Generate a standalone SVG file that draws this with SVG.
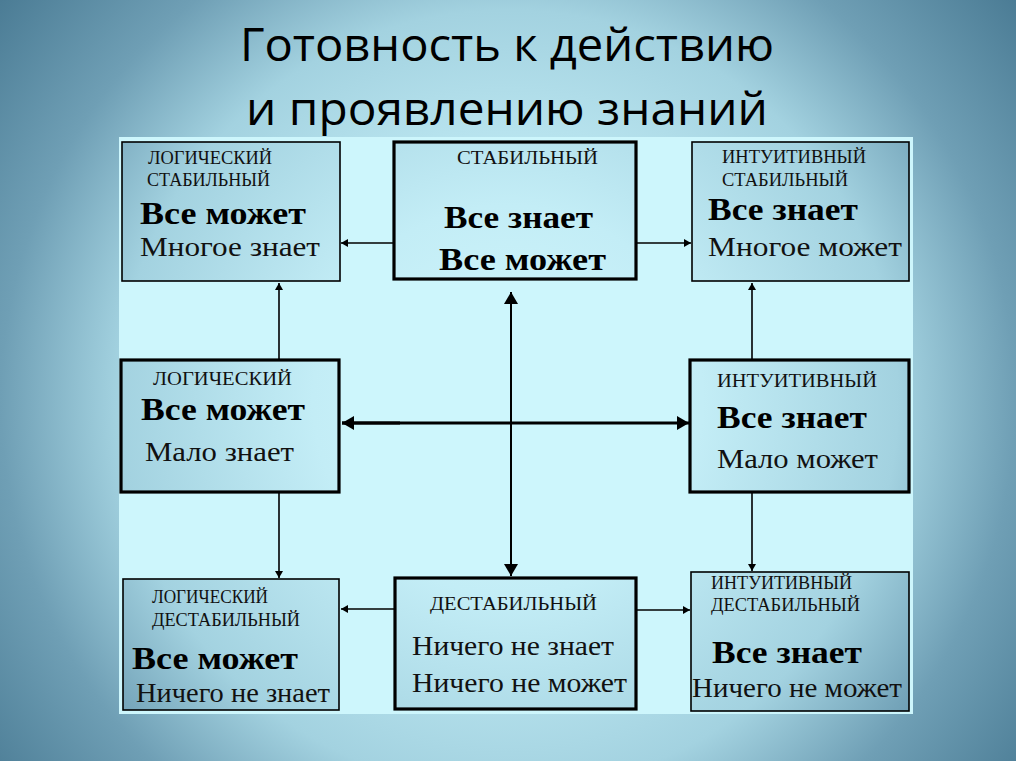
<svg xmlns="http://www.w3.org/2000/svg" width="1016" height="761" viewBox="0 0 1016 761">
<style>
.title{font-family:"Open Sans","Noto Sans","DejaVu Sans",sans-serif;font-size:45px;fill:#000}
.lbl{font-family:"Liberation Serif","DejaVu Serif",serif;font-size:19px;fill:#111}
.b{font-family:"Liberation Serif","DejaVu Serif",serif;font-size:31px;font-weight:bold;fill:#000}
.r{font-family:"Liberation Serif","DejaVu Serif",serif;font-size:27px;fill:#111}
.thin{fill:url(#bg);stroke:#000;stroke-width:1.6}
.thick{fill:url(#bg);stroke:#000;stroke-width:3.2}
.c1{stroke:#000;stroke-width:1.6;fill:none}
.c2{stroke:#000;stroke-width:2;fill:none}
.c3{stroke:#000;stroke-width:3.2;fill:none}
</style>
<defs>
<radialGradient id="bg" gradientUnits="userSpaceOnUse" cx="508" cy="400" r="650">
<stop offset="0" stop-color="#d2f7fc"/>
<stop offset="0.3" stop-color="#c3edf6"/>
<stop offset="0.6" stop-color="#a3d2e0"/>
<stop offset="0.78" stop-color="#6f9fb5"/>
<stop offset="1" stop-color="#4a7b94"/>
</radialGradient>
<marker id="as" viewBox="-10 -6 12 12" refX="0" refY="0" markerWidth="12" markerHeight="12" markerUnits="userSpaceOnUse" orient="auto">
<path d="M0,0 L-7,-4 L-7,4 Z" fill="#000"/>
</marker>
<marker id="am" viewBox="-14 -8 16 16" refX="0" refY="0" markerWidth="16" markerHeight="16" markerUnits="userSpaceOnUse" orient="auto">
<path d="M0,0 L-12,-7 L-12,7 Z" fill="#000"/>
</marker>
</defs>
<rect x="0" y="0" width="1016" height="761" fill="url(#bg)"/>
<rect x="119" y="137" width="794" height="577" fill="#cdf6fc"/>

<g id="title">
<text class="title" x="240" y="61" textLength="534" lengthAdjust="spacingAndGlyphs">Готовность к действию</text>
<text class="title" x="246" y="125" textLength="522" lengthAdjust="spacingAndGlyphs">и проявлению знаний</text>
</g>

<g id="connectors">
<line class="c1" x1="393" y1="243" x2="341" y2="243" marker-end="url(#as)"/>
<line class="c1" x1="636" y1="243" x2="691" y2="243" marker-end="url(#as)"/>
<line class="c1" x1="279" y1="360" x2="279" y2="283" marker-end="url(#as)"/>
<line class="c1" x1="752" y1="360" x2="752" y2="283" marker-end="url(#as)"/>
<line class="c1" x1="279" y1="492" x2="279" y2="578" marker-end="url(#as)"/>
<line class="c1" x1="752" y1="492" x2="752" y2="571" marker-end="url(#as)"/>
<line class="c1" x1="394" y1="609" x2="341" y2="609" marker-end="url(#as)"/>
<line class="c1" x1="637" y1="610" x2="690" y2="610" marker-end="url(#as)"/>
<line class="c2" x1="511" y1="300" x2="511" y2="292" marker-end="url(#am)"/>
<line class="c2" x1="511" y1="296" x2="511" y2="576" marker-end="url(#am)"/>
<line class="c3" x1="400" y1="423" x2="342" y2="423" marker-end="url(#am)"/>
<line class="c3" x1="342" y1="423" x2="689" y2="423" marker-end="url(#am)"/>
</g>

<g id="node-log-stab">
<rect class="thin" x="122" y="142" width="218" height="139"/>
<text class="lbl" x="148" y="164" textLength="124" lengthAdjust="spacingAndGlyphs">ЛОГИЧЕСКИЙ</text>
<text class="lbl" x="147" y="186" textLength="123" lengthAdjust="spacingAndGlyphs">СТАБИЛЬНЫЙ</text>
<text class="b" x="140" y="224" textLength="166" lengthAdjust="spacingAndGlyphs">Все может</text>
<text class="r" x="140" y="256" textLength="180" lengthAdjust="spacingAndGlyphs">Многое знает</text>
</g>

<g id="node-stab">
<rect class="thick" x="394" y="142" width="242" height="137"/>
<text class="lbl" x="457" y="164" textLength="141" lengthAdjust="spacingAndGlyphs">СТАБИЛЬНЫЙ</text>
<text class="b" x="444" y="228" textLength="149" lengthAdjust="spacingAndGlyphs">Все знает</text>
<text class="b" x="439" y="270" textLength="167" lengthAdjust="spacingAndGlyphs">Все может</text>
</g>

<g id="node-int-stab">
<rect class="thin" x="692" y="142" width="217" height="139"/>
<text class="lbl" x="722" y="163" textLength="144" lengthAdjust="spacingAndGlyphs">ИНТУИТИВНЫЙ</text>
<text class="lbl" x="722" y="186" textLength="126" lengthAdjust="spacingAndGlyphs">СТАБИЛЬНЫЙ</text>
<text class="b" x="708" y="220" textLength="150" lengthAdjust="spacingAndGlyphs">Все знает</text>
<text class="r" x="708" y="256" textLength="194" lengthAdjust="spacingAndGlyphs">Многое может</text>
</g>

<g id="node-log">
<rect class="thick" x="121" y="360" width="218" height="132"/>
<text class="lbl" x="153" y="385" textLength="139" lengthAdjust="spacingAndGlyphs">ЛОГИЧЕСКИЙ</text>
<text class="b" x="141" y="420" textLength="164" lengthAdjust="spacingAndGlyphs">Все может</text>
<text class="r" x="145" y="461" textLength="149" lengthAdjust="spacingAndGlyphs">Мало знает</text>
</g>

<g id="node-int">
<rect class="thick" x="690" y="360" width="219" height="132"/>
<text class="lbl" x="717" y="387" textLength="160" lengthAdjust="spacingAndGlyphs">ИНТУИТИВНЫЙ</text>
<text class="b" x="717" y="428" textLength="150" lengthAdjust="spacingAndGlyphs">Все знает</text>
<text class="r" x="717" y="468" textLength="161" lengthAdjust="spacingAndGlyphs">Мало может</text>
</g>

<g id="node-log-destab">
<rect class="thin" x="123" y="579" width="216" height="131"/>
<text class="lbl" x="152" y="603" textLength="116" lengthAdjust="spacingAndGlyphs">ЛОГИЧЕСКИЙ</text>
<text class="lbl" x="152" y="626" textLength="148" lengthAdjust="spacingAndGlyphs">ДЕСТАБИЛЬНЫЙ</text>
<text class="b" x="132" y="669" textLength="166" lengthAdjust="spacingAndGlyphs">Все может</text>
<text class="r" x="136" y="702" textLength="194" lengthAdjust="spacingAndGlyphs">Ничего не знает</text>
</g>

<g id="node-destab">
<rect class="thick" x="395" y="578" width="241" height="131"/>
<text class="lbl" x="430" y="610" textLength="167" lengthAdjust="spacingAndGlyphs">ДЕСТАБИЛЬНЫЙ</text>
<text class="r" x="412" y="655" textLength="202" lengthAdjust="spacingAndGlyphs">Ничего не  знает</text>
<text class="r" x="412" y="692" textLength="215" lengthAdjust="spacingAndGlyphs">Ничего не  может</text>
</g>

<g id="node-int-destab">
<rect class="thin" x="691" y="572" width="218" height="139"/>
<text class="lbl" x="711" y="589" textLength="141" lengthAdjust="spacingAndGlyphs">ИНТУИТИВНЫЙ</text>
<text class="lbl" x="711" y="611" textLength="149" lengthAdjust="spacingAndGlyphs">ДЕСТАБИЛЬНЫЙ</text>
<text class="b" x="712" y="663" textLength="150" lengthAdjust="spacingAndGlyphs">Все знает</text>
<text class="r" x="692" y="697" textLength="210" lengthAdjust="spacingAndGlyphs">Ничего не может</text>
</g>
</svg>
